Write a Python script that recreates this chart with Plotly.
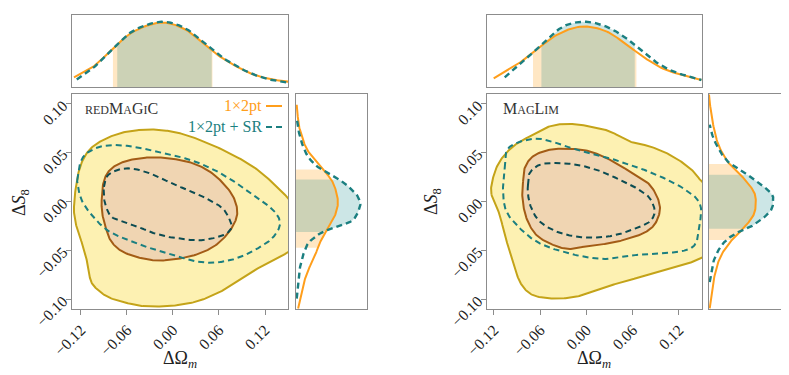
import numpy as np
import plotly.graph_objects as go

W, H = 789, 375
OFF = 8  # page body margin of the html page

# ---------------- data ----------------
# redMaGiC (left panel) 2D contours, (dOm, dS8)
rm_outer_x = [-0.1291, -0.1235, -0.1126, -0.0952, -0.0691, -0.043, -0.017, 0.0091, 0.0352, 0.070, 0.1048, 0.1309,
              0.1504, 0.1657, 0.1657, 0.1504, 0.1222, 0.0961, 0.070, 0.0352, 0.0004, -0.030, -0.0517, -0.0822,
              -0.0996, -0.1074, -0.1104, -0.117, -0.1257]
rm_outer_y = [-0.0055, 0.0287, 0.0493, 0.0612, 0.0698, 0.0732, 0.0732, 0.0698, 0.0629, 0.0509, 0.0355, 0.0185,
              0.0031, -0.0123, -0.0397, -0.0517, -0.063, -0.0757, -0.089, -0.1013, -0.1065, -0.1075, -0.1054,
              -0.0986, -0.0893, -0.0808, -0.0671, -0.0466, -0.0261]
rm_inner_x = [-0.093, -0.0909, -0.0843, -0.0713, -0.0517, -0.0257, 0.0004, 0.0265, 0.0483, 0.0656, 0.0787, 0.0839,
              0.0787, 0.0656, 0.0483, 0.0222, -0.0126, -0.0387, -0.0648, -0.080, -0.0874, -0.0922]
rm_inner_y = [0.0013, 0.0185, 0.0304, 0.0383, 0.0431, 0.0452, 0.0437, 0.039, 0.0304, 0.0185, 0.0047, -0.0107,
              -0.0243, -0.038, -0.0483, -0.0562, -0.0603, -0.0585, -0.0517, -0.0415, -0.0277, -0.0123]
rm_sr_outer_x = [-0.1248, -0.1213, -0.1126, -0.0952, -0.0735, -0.0517, -0.030, 0.0004, 0.0352, 0.070, 0.1048,
                 0.1309, 0.1396, 0.1309, 0.1135, 0.0874, 0.0613, 0.0352, 0.0091, -0.0213, -0.0517, -0.0822,
                 -0.104, -0.1191, -0.1248]
rm_sr_outer_y = [0.0219, 0.039, 0.0493, 0.0561, 0.0578, 0.0561, 0.0527, 0.0475, 0.039, 0.0253, 0.0065, -0.0089,
                 -0.0226, -0.0363, -0.0466, -0.0569, -0.062, -0.062, -0.0569, -0.050, -0.0415, -0.0312, -0.0158,
                 0.0013, 0.0185]
rm_sr_inner_x = [-0.090, -0.0865, -0.0757, -0.0604, -0.043, -0.0213, 0.0004, 0.0222, 0.0439, 0.0613, 0.070, 0.0765,
                 0.0722, 0.0613, 0.0352, 0.0004, -0.0257, -0.043, -0.0648, -0.080, -0.0874, -0.090]
rm_sr_inner_y = [0.015, 0.0253, 0.0314, 0.0339, 0.0321, 0.026, 0.0178, 0.0109, 0.0031, -0.0048, -0.0123, -0.0243,
                 -0.0312, -0.0356, -0.0397, -0.037, -0.0322, -0.0267, -0.0209, -0.0158, -0.0055, 0.0047]

# MagLim (right panel) 2D contours
ml_outer_x = [-0.1232, -0.1212, -0.1125, -0.0952, -0.0736, -0.0476, -0.0217, 0.0043, 0.0302, 0.0562, 0.0821,
              0.1081, 0.134, 0.1492, 0.1642, 0.1642, 0.1492, 0.1168, 0.0821, 0.0475, 0.0215, -0.0044, -0.0304,
              -0.0563, -0.0736, -0.0865, -0.0952, -0.106, -0.1125]
ml_outer_y = [0.0069, 0.024, 0.041, 0.0564, 0.0667, 0.0769, 0.0794, 0.0769, 0.0718, 0.0615, 0.0564, 0.0479,
              0.0343, 0.0205, 0.005, -0.045, -0.058, -0.0667, -0.0752, -0.082, -0.0888, -0.0957, -0.0991,
              -0.0984, -0.094, -0.082, -0.0615, -0.0342, -0.0136]
ml_inner_x = [-0.0822, -0.080, -0.0693, -0.0476, -0.0217, 0.0043, 0.0302, 0.0562, 0.0821, 0.0951, 0.0908, 0.0778,
              0.0562, 0.0302, 0.0043, -0.0217, -0.0433, -0.0649, -0.0778, -0.083]
ml_inner_y = [0.0205, 0.0343, 0.0462, 0.053, 0.054, 0.0513, 0.0428, 0.0308, 0.0171, -0.0034, -0.0205, -0.0308,
              -0.0375, -0.0427, -0.0451, -0.0485, -0.0444, -0.0342, -0.017, 0.0035]
ml_sr_outer_x = [-0.106, -0.1038, -0.0908, -0.0649, -0.0389, -0.013, 0.0215, 0.0562, 0.0908, 0.1253, 0.147, 0.147,
                 0.1405, 0.121, 0.0908, 0.0649, 0.0389, 0.0215, -0.0044, -0.0389, -0.0649, -0.0865, -0.1038, -0.1082]
ml_sr_outer_y = [0.0343, 0.0513, 0.0599, 0.0643, 0.0599, 0.053, 0.0462, 0.0376, 0.0274, 0.0137, -0.0016, -0.0239,
                 -0.0444, -0.0513, -0.0529, -0.0547, -0.058, -0.0588, -0.0564, -0.0495, -0.041, -0.0273, -0.0103,
                 0.0103]
ml_sr_inner_x = [-0.0758, -0.0736, -0.0606, -0.0389, -0.013, 0.013, 0.0389, 0.0649, 0.0821, 0.0886, 0.0821, 0.0649,
                 0.0389, 0.013, -0.013, -0.0389, -0.0606, -0.0714, -0.0758]
ml_sr_inner_y = [0.0171, 0.0291, 0.0376, 0.0394, 0.0376, 0.0325, 0.024, 0.0137, 0.0035, -0.0103, -0.0205, -0.0273,
                 -0.0342, -0.0369, -0.0359, -0.0308, -0.0205, -0.0068, 0.0069]

# 1D marginals: dOm (top) -> density, dS8 (right) -> density
rm_om_x = [-0.1291, -0.104, -0.0779, -0.0518, -0.017, 0.0134, 0.0395, 0.0613, 0.0961, 0.1222, 0.1504]
rm_om_p = [0.135, 0.282, 0.537, 0.768, 0.893, 0.815, 0.607, 0.421, 0.2125, 0.121, 0.074]
rm_om_sr_x = [-0.1255, -0.104, -0.0779, -0.0518, -0.017, 0.0134, 0.0395, 0.0613, 0.0961, 0.1222, 0.1504]
rm_om_sr_p = [0.105, 0.265, 0.535, 0.78, 0.905, 0.83, 0.625, 0.43, 0.215, 0.115, 0.06]
ml_om_x = [-0.1203, -0.0908, -0.0649, -0.0389, -0.0087, 0.0215, 0.0475, 0.0734, 0.1038, 0.1492]
ml_om_p = [0.121, 0.306, 0.514, 0.722, 0.8375, 0.792, 0.629, 0.421, 0.236, 0.097]
ml_om_sr_x = [-0.106, -0.0822, -0.0563, -0.0304, -0.0022, 0.0259, 0.0519, 0.0778, 0.1081, 0.1492]
ml_om_sr_p = [0.135, 0.351, 0.607, 0.8375, 0.907, 0.8375, 0.676, 0.444, 0.236, 0.097]

rm_s8_y = [-0.1095, -0.086, -0.0705, -0.057, -0.043, -0.0295, -0.016, -0.002, 0.0116, 0.022, 0.032, 0.041, 0.0527,
           0.0629, 0.0783, 0.099]
rm_s8_p = [0.03, 0.10, 0.17, 0.26, 0.33, 0.44, 0.54, 0.59, 0.56, 0.50, 0.39, 0.28, 0.16, 0.10, 0.04, 0.01]
rm_s8_sr_y = [-0.0993, -0.075, -0.06, -0.047, -0.0397, -0.031, -0.026, -0.019, -0.0059, 0.002, 0.008, 0.020, 0.032,
              0.042, 0.0527, 0.068, 0.0855]
rm_s8_sr_p = [0.01, 0.04, 0.08, 0.14, 0.21, 0.38, 0.58, 0.80, 0.90, 0.89, 0.84, 0.66, 0.37, 0.21, 0.12, 0.05, 0.01]
ml_s8_y = [-0.1093, -0.082, -0.058, -0.041, -0.0273, -0.0136, 0.0, 0.0103, 0.024, 0.0376, 0.0582, 0.0855, 0.1094]
ml_s8_p = [0.01, 0.06, 0.15, 0.30, 0.48, 0.62, 0.65, 0.62, 0.48, 0.29, 0.13, 0.04, 0.0]
ml_s8_sr_y = [-0.0824, -0.0618, -0.0444, -0.0331, -0.0249, -0.011, 0.0, 0.0094, 0.0256, 0.041, 0.0615, 0.0786]
ml_s8_sr_p = [0.01, 0.06, 0.18, 0.36, 0.6, 0.84, 0.89, 0.85, 0.57, 0.26, 0.08, 0.01]

# 68% intervals shaded in the marginals (lo, hi)
rm_om_band, rm_om_sr_band = (-0.0783, 0.0515), (-0.0727, 0.0505)
ml_om_band, ml_om_sr_band = (-0.0693, 0.0649), (-0.0584, 0.0627)
rm_s8_band, rm_s8_sr_band = (-0.0472, 0.0328), (-0.0312, 0.0226)
ml_s8_band, ml_s8_sr_band = (-0.0393, 0.0384), (-0.028, 0.0274)

om_ticks = [-0.12, -0.06, 0.0, 0.06, 0.12]
om_ticktext = ["\u22120.12", "\u22120.06", "0.00", "0.06", "0.12"]
s8_ticks = [-0.10, -0.05, 0.0, 0.05, 0.10]
s8_ticktext = ["\u22120.10", "\u22120.05", "0.00", "0.05", "0.10"]

ORANGE = "#ff9e1b"
TEAL = "#1b7f80"
TEAL_DARK = "#0c4c52"
FONT = "Liberation Serif"


def catmull(xs, ys, closed=False, n=16):
    p = np.column_stack([xs, ys]).astype(float)
    if closed:
        p = np.vstack([p[-1], p, p[0], p[1]])
    else:
        p = np.vstack([p[0], p, p[-1]])
    t = np.linspace(0, 1, n, endpoint=False)[:, None]
    out = []
    for i in range(1, len(p) - 2):
        p0, p1, p2, p3 = p[i - 1], p[i], p[i + 1], p[i + 2]
        out.append(0.5 * (2 * p1 + (-p0 + p2) * t + (2 * p0 - 5 * p1 + 4 * p2 - p3) * t ** 2
                          + (-p0 + 3 * p1 - 3 * p2 + p3) * t ** 3))
    out.append(p[-2][None, :])
    a = np.vstack(out)
    return a[:, 0], a[:, 1]


def px2paper(px, py):
    return (px - OFF) / W, 1 - (py - OFF) / H


fig = go.Figure()


def contours(xa, ya, outer, inner, sr_outer, sr_inner):
    x, y = catmull(*outer, closed=True)
    fig.add_trace(go.Scatter(x=x, y=y, xaxis=xa, yaxis=ya, mode="lines", fill="toself", fillcolor="#fdf1b2",
                             line=dict(color="#c4a318", width=2)))
    x, y = catmull(*inner, closed=True)
    fig.add_trace(go.Scatter(x=x, y=y, xaxis=xa, yaxis=ya, mode="lines", fill="toself", fillcolor="#f0d5b2",
                             line=dict(color="#a35c16", width=2)))
    x, y = catmull(*sr_outer, closed=True)
    fig.add_trace(go.Scatter(x=x, y=y, xaxis=xa, yaxis=ya, mode="lines",
                             line=dict(color=TEAL, width=2, dash="6px,4px")))
    x, y = catmull(*sr_inner, closed=True)
    fig.add_trace(go.Scatter(x=x, y=y, xaxis=xa, yaxis=ya, mode="lines",
                             line=dict(color=TEAL_DARK, width=2, dash="6px,4px")))


def marginal(xa, ya, pos, dens, band, fillcolor, vertical):
    s, d = catmull(pos, dens)
    lo, hi = band
    m = (s > lo) & (s < hi)
    fs = np.concatenate([[lo], s[m], [hi]])
    fd = np.concatenate([[np.interp(lo, s, d)], d[m], [np.interp(hi, s, d)]])
    if vertical:
        fig.add_trace(go.Scatter(x=fd, y=fs, xaxis=xa, yaxis=ya, mode="lines", fill="tozerox",
                                 fillcolor=fillcolor, line=dict(width=0)))
    else:
        fig.add_trace(go.Scatter(x=fs, y=fd, xaxis=xa, yaxis=ya, mode="lines", fill="tozeroy",
                                 fillcolor=fillcolor, line=dict(width=0)))
    return (d, s) if vertical else (s, d)


def marg_pair(xa, ya, a, b, vertical):
    la = marginal(xa, ya, *a, "rgba(255,150,0,0.23)", vertical)
    lb = marginal(xa, ya, *b, "rgba(0,128,128,0.2)", vertical)
    fig.add_trace(go.Scatter(x=la[0], y=la[1], xaxis=xa, yaxis=ya, mode="lines",
                             line=dict(color=ORANGE, width=2)))
    fig.add_trace(go.Scatter(x=lb[0], y=lb[1], xaxis=xa, yaxis=ya, mode="lines",
                             line=dict(color=TEAL, width=2.4, dash="6px,4px")))


contours("x", "y", (rm_outer_x, rm_outer_y), (rm_inner_x, rm_inner_y),
         (rm_sr_outer_x, rm_sr_outer_y), (rm_sr_inner_x, rm_sr_inner_y))
marg_pair("x2", "y2", (rm_om_x, rm_om_p, rm_om_band), (rm_om_sr_x, rm_om_sr_p, rm_om_sr_band), False)
marg_pair("x3", "y3", (rm_s8_y, rm_s8_p, rm_s8_band), (rm_s8_sr_y, rm_s8_sr_p, rm_s8_sr_band), True)

contours("x4", "y4", (ml_outer_x, ml_outer_y), (ml_inner_x, ml_inner_y),
         (ml_sr_outer_x, ml_sr_outer_y), (ml_sr_inner_x, ml_sr_inner_y))
marg_pair("x5", "y5", (ml_om_x, ml_om_p, ml_om_band), (ml_om_sr_x, ml_om_sr_p, ml_om_sr_band), False)
marg_pair("x6", "y6", (ml_s8_y, ml_s8_p, ml_s8_band), (ml_s8_sr_y, ml_s8_sr_p, ml_s8_sr_band), True)

frame = dict(showline=True, mirror=True, linecolor="#8c8c8c", linewidth=1, showgrid=False, zeroline=False,
             automargin=False)
tickfont = dict(family=FONT, size=15.5, color="#222")


def xdom(x0, x1):
    return [(x0 - OFF) / W, (x1 - OFF) / W]


def ydom(top, bottom):
    return [1 - (bottom - OFF) / H, 1 - (top - OFF) / H]


def xmain(x0, x1, rng, anchor):
    return dict(frame, domain=xdom(x0, x1), range=rng, anchor=anchor, tickvals=om_ticks,
                ticktext=om_ticktext, ticks="outside", ticklen=5, tickcolor="#8c8c8c", tickangle=-45,
                tickfont=tickfont)


def ymain(anchor):
    return dict(frame, domain=ydom(94, 309), range=[-0.11, 0.11], anchor=anchor, tickvals=s8_ticks,
                ticktext=s8_ticktext, ticks="outside", ticklen=5, tickcolor="#8c8c8c", tickangle=-45,
                tickfont=tickfont)


def blank(dom, rng, anchor, horizontal):
    d = dict(frame, range=rng, anchor=anchor, showticklabels=False, ticks="")
    d["domain"] = xdom(*dom) if horizontal else ydom(*dom)
    return d


rm_xr = [-0.1317, 0.15]
ml_xr = [-0.129, 0.15]
fig.update_layout(
    xaxis=xmain(72, 288, rm_xr, "y"), yaxis=ymain("x"),
    xaxis2=blank((72, 288), rm_xr, "y2", True), yaxis2=blank((15, 87), [0, 1], "x2", False),
    xaxis3=blank((296, 367), [0, 1], "y3", True), yaxis3=blank((94, 309), [-0.11, 0.11], "x3", False),
    xaxis4=xmain(487, 702, ml_xr, "y4"), yaxis4=ymain("x4"),
    xaxis5=blank((487, 702), ml_xr, "y5", True), yaxis5=blank((15, 87), [0, 1], "x5", False),
    xaxis6=blank((709, 781), [0, 1], "y6", True), yaxis6=blank((94, 309), [-0.11, 0.11], "x6", False),
)


def note(px, py, text, size=16, color="#222", xanchor="center", angle=0):
    x, y = px2paper(px, py)
    fig.add_annotation(x=x, y=y, xref="paper", yref="paper", text=text, showarrow=False, xanchor=xanchor,
                       yanchor="middle", textangle=angle, font=dict(family=FONT, size=size, color=color))


note(180, 359, "\u0394\u03a9<sub><i>m</i></sub>", 18)
note(594, 359, "\u0394\u03a9<sub><i>m</i></sub>", 18)
note(20, 203, "\u0394<i>S</i><sub>8</sub>", 18, angle=-90)
note(432, 202, "\u0394<i>S</i><sub>8</sub>", 18, angle=-90)

sm = '<span style="font-size:12px">%s</span>'
note(83, 109, (sm % "RED") + "M" + (sm % "A") + "G" + (sm % "I") + "C", 16, "#333", "left")
note(501, 109, "M" + (sm % "AG") + "L" + (sm % "IM"), 16, "#333", "left")
note(264, 106, "1\u00d72pt", 16, ORANGE, "right")
note(264, 127, "1\u00d72pt + SR", 16, TEAL, "right")

for py, col, dash in [(106, ORANGE, "solid"), (127, TEAL, "6px,4px")]:
    x0, y0 = px2paper(266, py)
    x1, _ = px2paper(282, py)
    fig.add_shape(type="line", xref="paper", yref="paper", x0=x0, x1=x1, y0=y0, y1=y0,
                  line=dict(color=col, width=2, dash=dash))

fig.update_layout(width=W, height=H, margin=dict(l=0, r=0, t=0, b=0), showlegend=False,
                  paper_bgcolor="white", plot_bgcolor="white", font=dict(family=FONT))

fig.write_html("out.html")
